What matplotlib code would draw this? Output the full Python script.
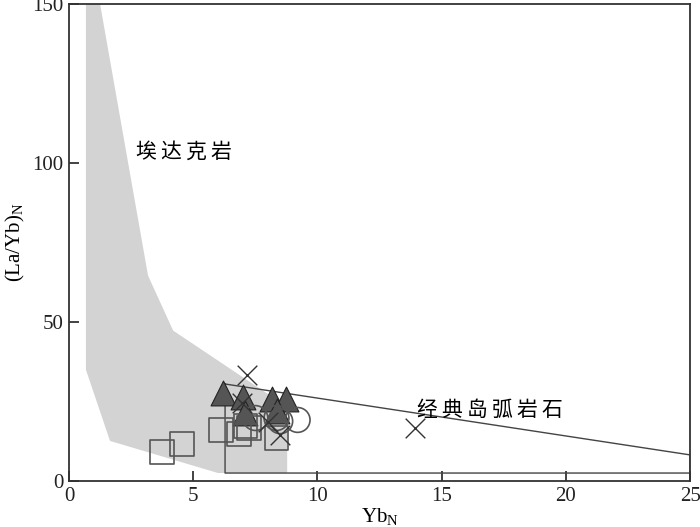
"""
Adakite vs classic island arc discrimination: (La/Yb)N - YbN
"""

import numpy as np
import matplotlib.pyplot as plt

plt.rcParams['font.family'] = ['Liberation Serif', 'DejaVu Serif']
plt.rcParams['mathtext.fontset'] = 'custom'
plt.rcParams['mathtext.rm'] = 'Liberation Serif'

# field outlines
adakite_x = [0.68, 1.25, 3.18, 4.19, 8.78, 8.78, 6.0, 1.65, 0.68]
adakite_y = [150, 150, 64.6, 47.3, 23.3, 2.5, 2.5, 12.6, 35]
arc_x = [6.28, 25, 25, 6.28, 6.28]
arc_y = [30.5, 8.2, 2.5, 2.5, 30.5]

# samples
tri_x = [6.2, 7.0, 8.16, 8.74, 7.1, 8.37]
tri_y = [27.7, 26.4, 25.8, 25.8, 21.5, 22.0]
sq_x = [3.74, 4.55, 6.12, 6.84, 7.1, 7.25, 8.35]
sq_y = [9.1, 11.6, 16.0, 14.8, 17.3, 16.7, 13.5]
circ_x = [7.5, 8.35, 8.5, 9.2]
circ_y = [19.8, 19.8, 18.8, 19.2]
cross_x = [7.17, 13.93, 8.5, 6.95, 8.0]
cross_y = [33.3, 16.7, 14.5, 24.5, 18.5]

labels = ["埃达克岩", "经典岛弧岩石"]

fig = plt.figure(figsize=(7, 5.27), dpi=100)
ax = fig.add_axes([0.0986, 0.0873, 0.8874, 0.9051])

ax.fill(adakite_x, adakite_y, color="#d3d3d3", lw=0, zorder=1)
ax.plot(arc_x, arc_y, color="#444444", lw=1.0, zorder=2)

ax.scatter(tri_x, tri_y, marker="^", s=320, facecolor="#555555",
           edgecolor="#222222", lw=0.8, zorder=3)
ax.scatter(sq_x, sq_y, marker="s", s=290, facecolor="none",
           edgecolor="#555555", lw=1.2, zorder=4)
ax.scatter(circ_x, circ_y, marker="o", s=320, facecolor="none",
           edgecolor="#555555", lw=1.2, zorder=4)
ax.scatter(cross_x, cross_y, marker="x", s=200, color="#333333",
           lw=1.0, zorder=5)

cjk = ['Noto Sans CJK SC', 'DejaVu Sans']
ax.text(2.7, 103.5, "\u2009".join(labels[0]), fontsize=15, va="center", family=cjk)
ax.text(14.0, 22.3, "\u2009".join(labels[1]), fontsize=15, va="center", family=cjk)

ax.set_xlim(0, 25)
ax.set_ylim(0, 150)
ax.set_xticks([0, 5, 10, 15, 20, 25])
ax.set_yticks([0, 50, 100, 150])
ax.tick_params(direction="in", length=7, width=1.2, labelsize=15,
               colors="#222222", pad=4)
for s in ax.spines.values():
    s.set_linewidth(1.3)
    s.set_color("#333333")
ax.set_xlabel(r"$\mathrm{Yb_N}$", fontsize=15, labelpad=0)
ax.set_ylabel(r"$\mathrm{(La/Yb)_N}$", fontsize=15, labelpad=4)

fig.savefig("out.png", dpi=100)
